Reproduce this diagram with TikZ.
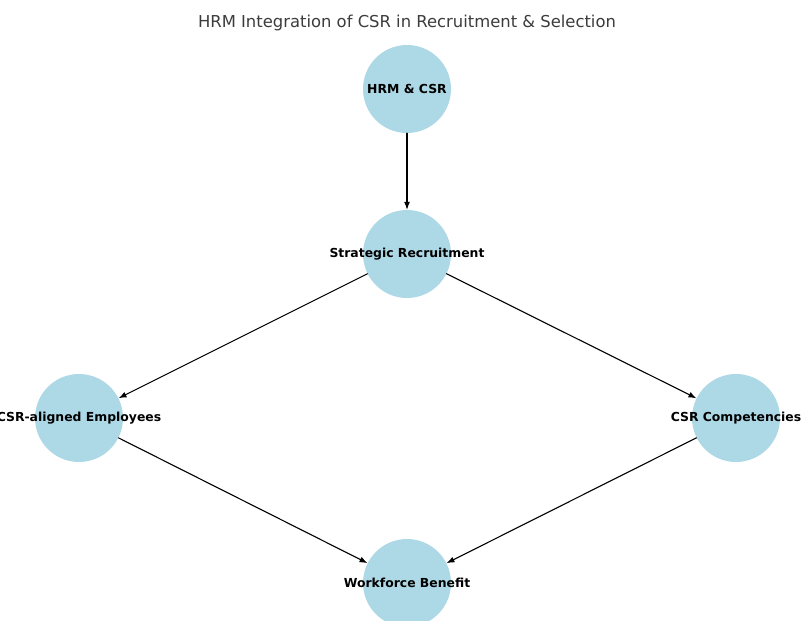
\documentclass[tikz,border=0pt]{standalone}
\usepackage{fontspec}
\setmainfont{DejaVu Sans}
\usetikzlibrary{arrows.meta}
\definecolor{nodeblue}{RGB}{173,216,230}
\definecolor{titlegray}{RGB}{60,60,60}
\tikzset{
  topic/.style={circle,fill=nodeblue,minimum size=88pt,inner sep=0pt},
  topictext/.style={font=\bfseries\fontsize{12.4}{14}\selectfont},
  link/.style={-{Latex[length=8pt,width=6pt]},line width=1.1pt},
}
\begin{document}
\begin{tikzpicture}[x=1pt,y=-1pt,line cap=round,line join=round]
  \clip (0,0) rectangle (801,621);
  \node[font=\fontsize{16.4}{18}\selectfont,text=titlegray] (title) at (407,23) {HRM Integration of CSR in Recruitment \& Selection};
  \node[topic,label={[topictext]center:HRM \& CSR}] (hrm) at (407,89) {};
  \node[topic,label={[topictext]center:Strategic Recruitment}] (recruit) at (407,254) {};
  \node[topic,label={[topictext]center:CSR-aligned Employees}] (employees) at (79,418) {};
  \node[topic,label={[topictext]center:CSR Competencies}] (competencies) at (736,418) {};
  \node[topic,label={[topictext]center:Workforce Benefit}] (benefit) at (407,583) {};
  \draw[link] (hrm) -- (recruit);
  \draw[link] (recruit) -- (employees);
  \draw[link] (recruit) -- (competencies);
  \draw[link] (employees) -- (benefit);
  \draw[link] (competencies) -- (benefit);
\end{tikzpicture}
\end{document}
